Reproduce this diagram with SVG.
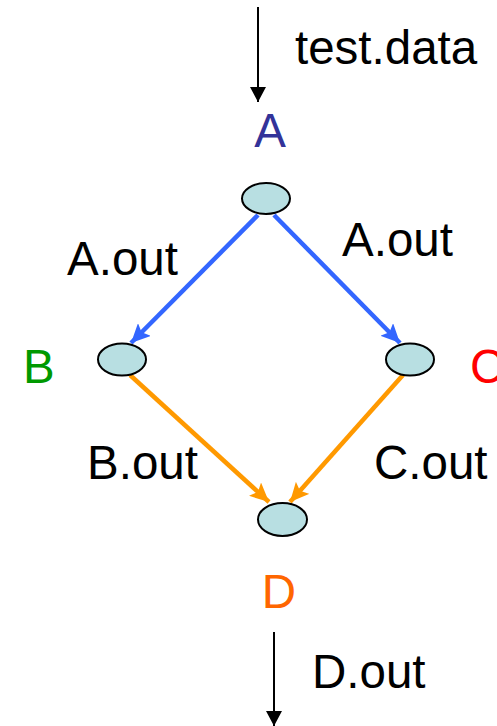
<svg xmlns="http://www.w3.org/2000/svg" width="497" height="726" viewBox="0 0 497 726">
<style>
text{font-family:"Liberation Sans",Arial,sans-serif;font-size:47.5px;fill:#000}
.node ellipse{fill:#B8DFE2;stroke:#000;stroke-width:2}
.blue{stroke:#3366FF;stroke-width:4.5;fill:none}
.orange{stroke:#FF9900;stroke-width:4.5;fill:none}
.black{stroke:#000;stroke-width:2;fill:none}
</style>
<defs>
<marker id="hb" markerUnits="userSpaceOnUse" markerWidth="20" markerHeight="18" refX="19" refY="9" orient="auto"><path d="M0,0 L19,9 L0,18 L4,9 z" fill="#3366FF"/></marker>
<marker id="ho" markerUnits="userSpaceOnUse" markerWidth="20" markerHeight="18" refX="19" refY="9" orient="auto"><path d="M0,0 L19,9 L0,18 L4,9 z" fill="#FF9900"/></marker>
<marker id="hk" markerUnits="userSpaceOnUse" markerWidth="16" markerHeight="16" refX="15" refY="8" orient="auto"><path d="M0,0 L15,8 L0,16 z" fill="#000"/></marker>
</defs>
<g id="connectors">
<line class="black" x1="258" y1="7" x2="258" y2="102" marker-end="url(#hk)"/>
<line class="blue" x1="258" y1="215" x2="131" y2="343" marker-end="url(#hb)"/>
<line class="blue" x1="274" y1="215" x2="400" y2="343" marker-end="url(#hb)"/>
<line class="orange" x1="130" y1="375" x2="269" y2="502" marker-end="url(#ho)"/>
<line class="orange" x1="403" y1="375" x2="290" y2="502" marker-end="url(#ho)"/>
<line class="black" x1="274" y1="632" x2="274" y2="726" marker-end="url(#hk)"/>
<text x="295" y="64">test.data</text>
<text x="67" y="275">A.out</text>
<text x="342" y="256">A.out</text>
<text x="87" y="479">B.out</text>
<text x="374" y="479">C.out</text>
<text x="312" y="688">D.out</text>
</g>
<g id="nodeA" class="node"><ellipse cx="266" cy="198.5" rx="24" ry="15.5"/><text x="270" y="147" text-anchor="middle" style="fill:#333399">A</text></g>
<g id="nodeB" class="node"><ellipse cx="122" cy="359.5" rx="24" ry="16"/><text x="23" y="383" style="fill:#009900">B</text></g>
<g id="nodeC" class="node"><ellipse cx="410" cy="359.5" rx="24" ry="16"/><text x="470" y="383" style="fill:#FF0000">C</text></g>
<g id="nodeD" class="node"><ellipse cx="282.5" cy="519.5" rx="24.5" ry="16.5"/><text x="279" y="608" text-anchor="middle" style="fill:#FF6600">D</text></g>
</svg>
